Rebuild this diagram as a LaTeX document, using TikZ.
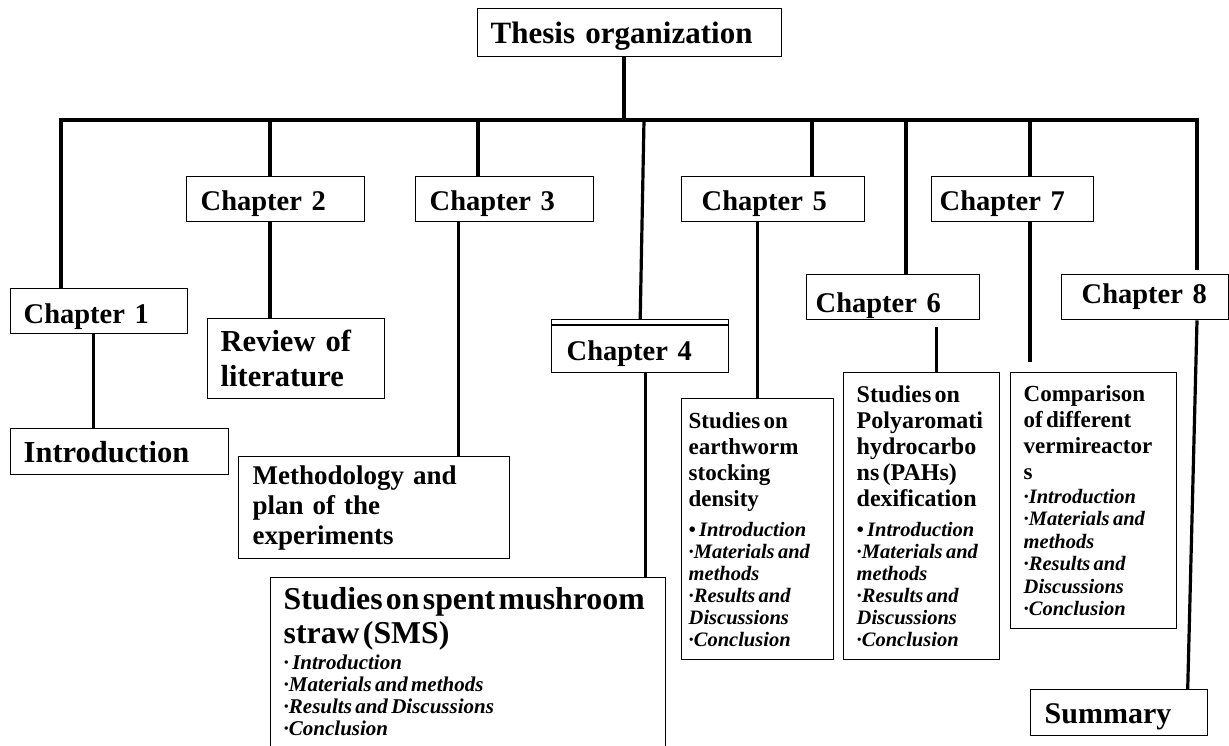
\documentclass[tikz,border=0pt]{standalone}
\usepackage{fontspec}
\setmainfont{Liberation Serif}
\begin{document}
\begin{tikzpicture}[x=1pt,y=-1pt,
    box/.style={draw,line width=1.4pt,anchor=north west,align=left,inner ysep=2pt,font=\bfseries},
    link/.style={line width=3.2pt}]
    \useasboundingbox (0,0) rectangle (1229,745);
    \node[box,minimum height=48pt,inner xsep=13pt,text width=278pt,text height=22pt,text depth=0pt,
        font=\bfseries\fontsize{31}{36}\selectfont] (thesis) at (477,8) {Thesis organization};
    \foreach \n/\x/\y/\h/\p/\tw/\th in {1/10/288/45/13/151/25,2/186/176/45/14/150/23,
        3/415/176/45/14/150/23,4/551/319/53/15/147/29,5/681/176/45/20/143/23,
        6/806/274/45/9/155/31,7/931/176/45/8/146/23,8/1061/274/45/20/127/13} {
        \node[box,minimum height=\h pt,inner xsep=\p pt,text width=\tw pt,text height=\th pt,text depth=0pt,
            font=\bfseries\fontsize{28.5}{32}\selectfont] (ch\n) at (\x,\y) {Chapter \n};
    }
    \draw[line width=1.4pt] ([yshift=-6pt]ch4.north west) -- ([yshift=-6pt]ch4.north east);
    \node[box,minimum height=46pt,inner xsep=13pt,text width=192pt,text height=22pt,text depth=0pt,
        font=\bfseries\fontsize{30.5}{35}\selectfont] (intro) at (10,428) {Introduction};
    \node[box,minimum height=80pt,inner xsep=13pt,text width=151pt,
        font=\bfseries\fontsize{30.5}{35}\selectfont] (review) at (207,318) {Review of\\literature};
    \node[box,minimum height=102pt,inner xsep=14pt,text width=243pt,
        font=\bfseries\fontsize{27}{30}\selectfont] (method) at (238,456) {Methodology and\\plan of the\\experiments};
    \node[box,inner xsep=13pt,inner ysep=10pt,text width=369pt,text depth=170pt] (sms) at (270,577)
        {{\fontsize{31.8}{34}\selectfont Studies on spent mushroom\\straw (SMS)\par}\vspace{4pt}
        {\fontsize{21}{22}\selectfont\itshape · Introduction\\·Materials and methods\\·Results and Discussions\\·Conclusion\par}};
    \node[box,minimum height=261pt,inner xsep=7pt,text width=138pt] (stock) at (681,398)
        {{\fontsize{23}{26}\selectfont Studies on\\earthworm\\stocking\\density\par}\vspace{8pt}
        {\fontsize{20.5}{22}\selectfont\itshape • Introduction\\·Materials and\\methods\\·Results and\\Discussions\\·Conclusion\par}};
    \node[box,minimum height=287pt,inner xsep=13pt,text width=130pt] (pah) at (843,372)
        {{\fontsize{24}{26}\selectfont Studies on\\Polyaromati\\hydrocarbo\\ns (PAHs)\\dexification\par}\vspace{8pt}
        {\fontsize{20.5}{22}\selectfont\itshape • Introduction\\·Materials and\\methods\\·Results and\\Discussions\\·Conclusion\par}};
    \node[box,minimum height=256pt,inner xsep=13pt,text width=140pt] (comp) at (1010,372)
        {{\fontsize{23}{26}\selectfont Comparison\\of different\\vermireactor\\s\par}\vspace{1pt}
        {\fontsize{20.5}{22.5}\selectfont\itshape ·Introduction\\·Materials and\\methods\\·Results and\\Discussions\\·Conclusion\par}};
    \node[box,minimum height=46pt,inner xsep=14pt,text width=149pt,text height=22pt,text depth=0pt,
        font=\bfseries\fontsize{30}{34}\selectfont] (summary) at (1030,689) {Summary};
    \foreach \i/\x in {0/624,1/61,2/270,3/478,4/644,5/812,6/906,7/1030,8/1197}
        \coordinate (b\i) at (\x,120);
    \draw[link] (thesis.south -| b0) -- (b0);
    \draw[link] (ch1.north -| b1) -- (b1) -- (b8) -- ([yshift=4pt]ch8.north -| b8);
    \foreach \i in {2,3,5,6,7}
        \draw[link] (b\i) -- (b\i |- ch\i.north);
    \draw[link] (b4) -- (ch4.north);
    \draw[link] ([xshift=-5.5pt]ch1.south) -- ([xshift=-5.5pt]ch1.south |- intro.north);
    \draw[link] (ch2.south -| b2) -- (review.north -| b2);
    \draw[link] ([xshift=-46pt]ch3.south) -- ([xshift=-46pt]ch3.south |- method.north);
    \draw[link] ([xshift=5.5pt]ch4.south) -- ([xshift=5.5pt]ch4.south |- sms.north);
    \draw[link] (stock.north |- ch5.south) -- (stock.north);
    \draw[link] ([xshift=43.5pt,yshift=-7pt]ch6.south) -- ([xshift=43.5pt]ch6.south |- pah.north);
    \draw[link,shorten >=10pt] (ch7.south -| b7) -- (comp.north -| b7);
    \draw[link] (ch8.south -| b8) -- ([xshift=68.5pt]summary.north);
\end{tikzpicture}
\end{document}
